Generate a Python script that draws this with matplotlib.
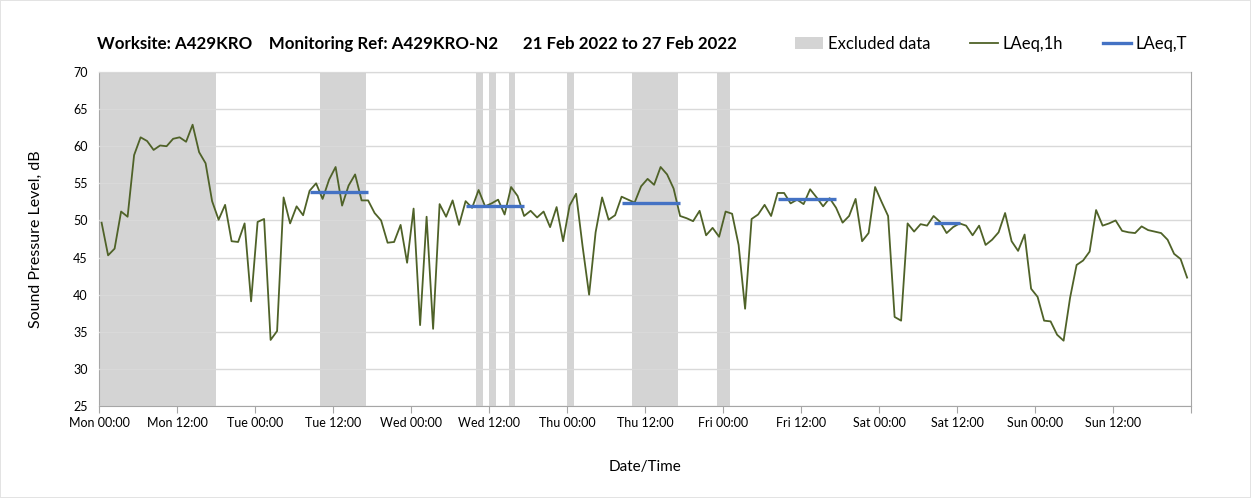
import matplotlib.pyplot as plt
from matplotlib.patches import Patch
from matplotlib.lines import Line2D

# Hourly LAeq,1h values, Mon 00:00 onwards (168 hours)
laeq_1h = [
    49.7, 45.3, 46.2, 51.2, 50.5, 58.8, 61.2, 60.7, 59.5, 60.1, 60.0, 61.0,
    61.2, 60.6, 62.9, 59.2, 57.7, 52.6, 50.1, 52.1, 47.2, 47.1, 49.6, 39.1,
    49.8, 50.2, 33.9, 35.1, 53.1, 49.6, 51.9, 50.7, 54.0, 55.0, 52.9, 55.5,
    57.2, 52.0, 54.7, 56.2, 52.7, 52.7, 51.0, 50.0, 47.0, 47.1, 49.4, 44.3,
    51.6, 35.9, 50.5, 35.4, 52.2, 50.5, 52.7, 49.4, 52.6, 51.7, 54.1, 51.9,
    52.3, 52.8, 50.8, 54.5, 53.3, 50.6, 51.3, 50.4, 51.2, 49.1, 51.8, 47.2,
    52.0, 53.6, 46.5, 40.0, 48.4, 53.1, 50.1, 50.7, 53.2, 52.8, 52.4, 54.6,
    55.6, 54.8, 57.2, 56.2, 54.3, 50.6, 50.3, 49.9, 51.3, 48.0, 49.0, 47.8,
    51.2, 50.9, 46.7, 38.1, 50.2, 50.8, 52.1, 50.6, 53.7, 53.7, 52.3, 52.8,
    52.2, 54.2, 53.1, 51.9, 53.0, 51.7, 49.7, 50.6, 52.9, 47.2, 48.3, 54.5,
    52.5, 50.6, 37.0, 36.5, 49.6, 48.5, 49.5, 49.3, 50.6, 49.8, 48.3, 49.1,
    49.6, 49.3, 48.0, 49.3, 46.7, 47.4, 48.4, 51.0, 47.2, 45.9, 48.1, 40.8,
    39.7, 36.5, 36.4, 34.6, 33.8, 39.6, 44.0, 44.6, 45.8, 51.4, 49.3, 49.6,
    50.0, 48.6, 48.4, 48.3, 49.2, 48.7, 48.5, 48.3, 47.4, 45.5, 44.8, 42.3,
]
hours = [h + 0.4 for h in range(len(laeq_1h))]

# Excluded data periods (hours from Mon 00:00)
excl_start = [0, 34, 58, 60, 63, 72, 82, 95]
excl_end = [18, 41, 59, 61, 64, 73, 89, 97]

# LAeq,T daytime values
laeqt_start = [32.4, 56.4, 80.4, 104.4, 128.4]
laeqt_end = [41.4, 65.4, 89.4, 113.4, 132.4]
laeqt_val = [53.8, 52.0, 52.3, 52.9, 49.6]

days = ["Mon", "Tue", "Wed", "Thu", "Fri", "Sat", "Sun"]
tick_labels = []
for d in days:
    tick_labels += [f"{d} 00:00", f"{d} 12:00"]
tick_labels.append("")

title = "Worksite: A429KRO    Monitoring Ref: A429KRO-N2      21 Feb 2022 to 27 Feb 2022"

GREEN = "#4f6228"
BLUE = "#4472c4"
BAND = "#d4d4d4"

plt.rcParams['font.family'] = ['Lato', 'DejaVu Sans']

fig = plt.figure(figsize=(12.51, 4.98), dpi=100)
fig.patch.set_edgecolor("#e3e3e3")
fig.patch.set_linewidth(1.2)
ax = fig.add_axes([99 / 1251, 1 - 406 / 498, (1191 - 99) / 1251, (406 - 72) / 498])

for s, e in zip(excl_start, excl_end):
    ax.axvspan(s, e, color=BAND, lw=0, zorder=0.3)

ax.plot(hours, laeq_1h, color=GREEN, lw=1.3, zorder=3)
ax.hlines(laeqt_val, laeqt_start, laeqt_end, color=BLUE, lw=2.4, zorder=4)

ax.set_xlim(0, 168)
ax.set_ylim(25, 70)
ax.set_yticks(range(25, 71, 5))
ax.set_xticks(range(0, 169, 12))
ax.set_xticklabels(tick_labels)
ax.set_xticks(range(24, 168, 24), minor=True)
ax.tick_params(axis='x', which='major', length=5, color="#a6a6a6", labelsize=9, pad=3)
ax.tick_params(axis='x', which='minor', length=0)
ax.tick_params(axis='y', length=0, labelsize=9, pad=8)
ax.grid(axis='y', color="#d9d9d9", lw=1)
ax.grid(axis='x', which='minor', color="#d9d9d9", lw=1)
ax.set_axisbelow(False)
for sp in ax.spines.values():
    sp.set_color("#a6a6a6")

ax.set_ylabel("Sound Pressure Level, dB", fontsize=11.5, labelpad=22)
ax.set_xlabel("Date/Time", fontsize=11, labelpad=22)

fig.text(97 / 1251, 1 - 44 / 498, title, fontsize=12.2, fontweight='bold',
         ha='left', va='center')

handles = [Patch(facecolor=BAND, edgecolor='none'),
           Line2D([], [], color=GREEN, lw=1.3),
           Line2D([], [], color=BLUE, lw=2.4)]
fig.legend(handles, ["Excluded data", "LAeq,1h", "LAeq,T"], loc='center right',
           bbox_to_anchor=(1202 / 1251, 1 - 44 / 498), ncol=3, frameon=False,
           fontsize=12, handlelength=1.7, handletextpad=0.25, columnspacing=2.4)

fig.savefig("out.png", dpi=100)
